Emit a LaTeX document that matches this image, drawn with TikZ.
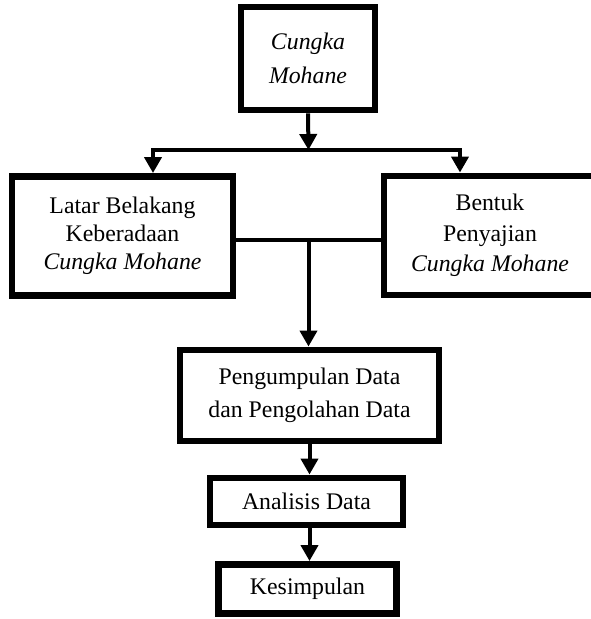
\documentclass[tikz,border=0pt]{standalone}
\usepackage{fontspec}
\setmainfont{Liberation Serif}
\usetikzlibrary{arrows.meta}
\begin{document}
\begin{tikzpicture}[x=0.75pt,y=-0.75pt,
  box/.style={draw=black,line width=5.2pt,fill=white,inner sep=0pt,align=center,
    font=\fontsize{17.85pt}{25pt}\selectfont},
  conn/.style={draw=black,line width=3pt},
  arr/.style={conn,-{Triangle[length=12pt,width=12.75pt]}}]
\useasboundingbox (0,0) rectangle (591,619);
\clip (0,0) rectangle (591,619);

\node[box,minimum width=134*0.75pt,minimum height=103*0.75pt,
  font=\fontsize{17.85pt}{25.5pt}\selectfont\itshape] (top) at (308,58.5) {Cungka\\Mohane};
\node[box,minimum width=221*0.75pt,minimum height=119*0.75pt,
  font=\fontsize{17.85pt}{21.2pt}\selectfont] (lb) at (122.5,236)
  {Latar Belakang\\Keberadaan\\\textit{Cungka Mohane}};
\node[box,minimum width=212*0.75pt,minimum height=119*0.75pt,
  font=\fontsize{17.85pt}{22.9pt}\selectfont] (rb) at (490,235.5)
  {Bentuk\\Penyajian\\\textit{Cungka Mohane}};
\node[box,minimum width=259*0.75pt,minimum height=91*0.75pt] (pd) at (309.5,395.5)
  {Pengumpulan Data\\dan Pengolahan Data};
\node[box,minimum width=193*0.75pt,minimum height=47*0.75pt] (ad) at (306.5,501.5) {Analisis Data};
\node[box,minimum width=178*0.75pt,minimum height=49*0.75pt] (ks) at (307.5,589) {Kesimpulan};

\coordinate (hm) at (308.5,150);
\coordinate (hl) at (153,150);
\coordinate (hr) at (460,150);
\coordinate (mid) at (308.5,240);
\coordinate (sp) at (309.5,0);

\draw[arr] (top.south) -- (hm);
\draw[conn,line cap=rect] (hl) -- (hr);
\draw[arr] (hl) -- (lb.north -| hl);
\draw[arr] (hr) -- (rb.north -| hr);
\draw[conn] (lb.east |- mid) -- (rb.west |- mid);
\draw[arr] (mid) -- (pd.north -| mid);
\draw[arr] (pd.south -| sp) -- (ad.north -| sp);
\draw[arr] (ad.south -| sp) -- (ks.north -| sp);
\end{tikzpicture}
\end{document}
